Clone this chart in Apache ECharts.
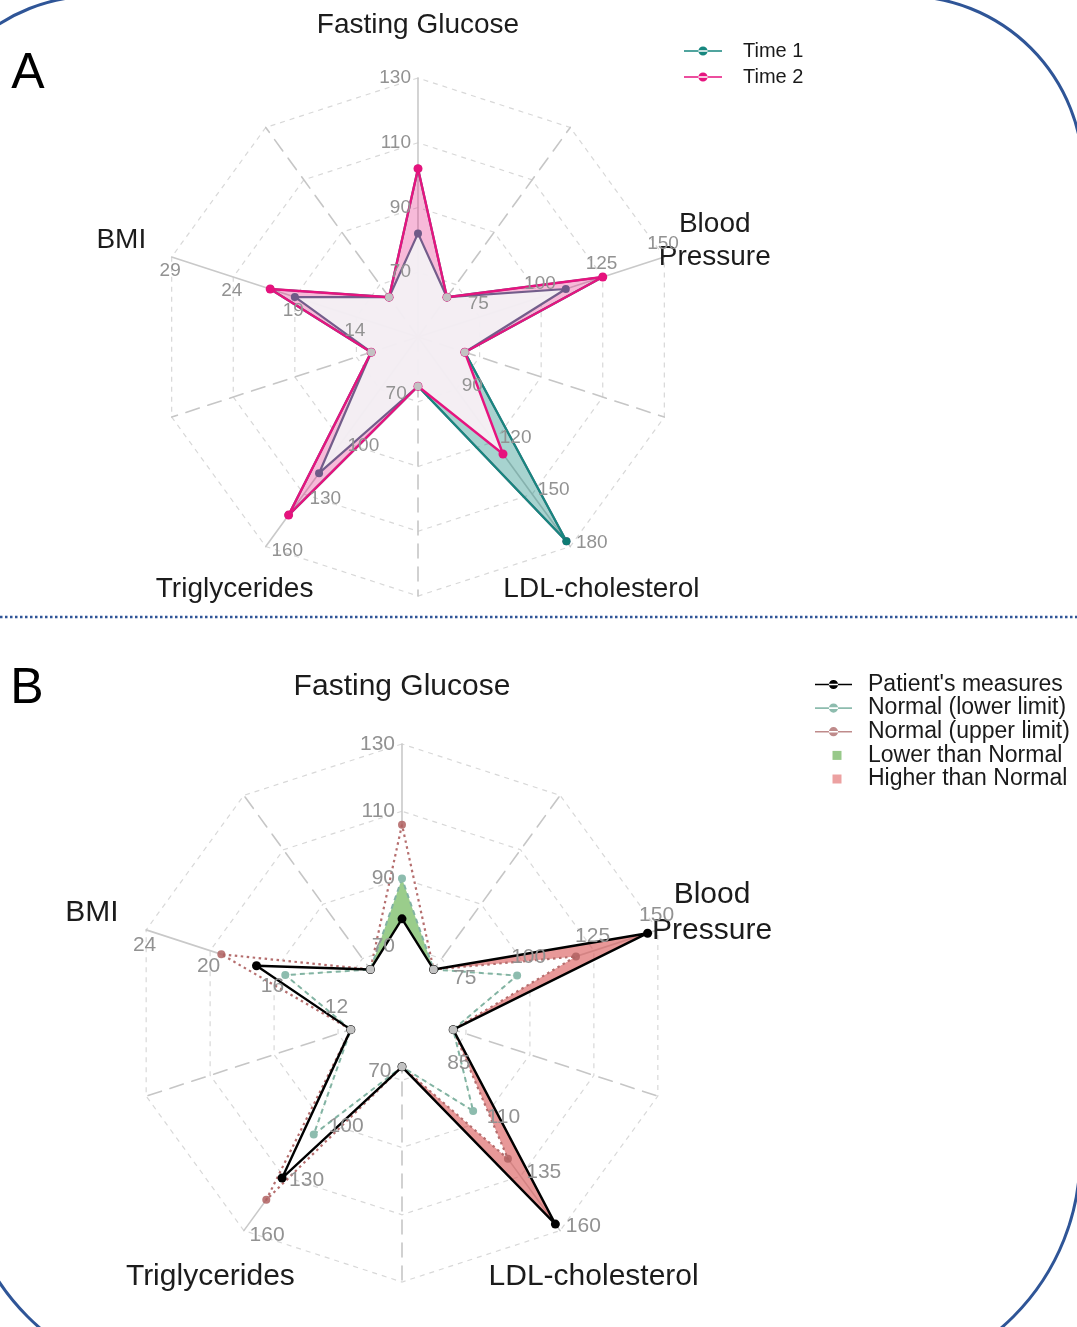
<!DOCTYPE html>
<html><head><meta charset="utf-8">
<script src="https://cdn.jsdelivr.net/npm/echarts@6/dist/echarts.min.js"></script>
<style>html,body{margin:0;padding:0;background:#fff}#c{width:1077px;height:1327px}</style>
</head><body><div id="c"></div>
<script>
// ---------- data ----------
const axisNames = ['Fasting Glucose', 'Blood\nPressure', 'LDL-cholesterol', 'Triglycerides', 'BMI'];
const ticksA = [[70, 90, 110, 130], [75, 100, 125, 150], [90, 120, 150, 180], [70, 100, 130, 160], [14, 19, 24, 29]];
const ticksB = [[70, 90, 110, 130], [75, 100, 125, 150], [85, 110, 135, 160], [70, 100, 130, 160], [12, 16, 20, 24]];
const time1 = [82, 110, 177, 118, 19];
const time2 = [102, 125, 127, 142, 21];
const patient = [78, 146, 157, 131, 17.1];
const normalLower = [90, 95, 105, 107, 15.3];
const normalUpper = [106, 118, 127, 143, 19.3];
const innerA = 0.19, innerB = 0.2;   // level of the star's inner vertices (fraction of radius)
const legendA = ['Time 1', 'Time 2'];
const legendB = ["Patient's measures", 'Normal (lower limit)', 'Normal (upper limit)', 'Lower than Normal', 'Higher than Normal'];

// ---------- helpers ----------
const FONT = 'Liberation Sans, Arial, sans-serif';
const order = [0, 4, 3, 2, 1]; // counter-clockwise from top: FG, BMI, Trig, LDL, BP

function indicators(ticks) {
  const out = [];
  order.forEach(k => {
    const t = ticks[k], step = t[1] - t[0];
    const ind = { name: axisNames[k], min: t[0] - step, max: t[t.length - 1] };
    if (k === 1) ind.axisLabel = { align: 'center', verticalAlign: 'bottom', margin: 4 };
    if (k === 4) ind.axisLabel = { align: 'center', verticalAlign: 'top', margin: 5 };
    out.push(ind);
    out.push({ name: '', min: 0, max: 1,
      axisLine: { lineStyle: { type: [14, 9], color: '#c6c6c6', width: 1.6 } },
      axisLabel: { show: false } });
  });
  return out;
}
function star(vals, inner) {
  const v = [];
  order.forEach(k => { v.push(vals[k]); v.push(inner); });
  return v;
}
const pairMin = (a, b) => a.map((x, i) => Math.min(x, b[i]));
const pairMax = (a, b) => a.map((x, i) => Math.max(x, b[i]));

function mainRadar(center, radius, ticks, nameSize, lineH, nameGap) {
  return {
    center, radius, startAngle: 90, splitNumber: 4, shape: 'polygon', z: 0,
    indicator: indicators(ticks),
    nameGap,
    axisName: { color: '#1c1c1c', fontSize: nameSize, fontFamily: FONT, lineHeight: lineH,
      align: 'center', verticalAlign: 'middle' },
    splitLine: { lineStyle: { color: '#d8d8d8', type: [5, 5], width: 1.2 } },
    splitArea: { show: false },
    axisLine: { lineStyle: { color: '#c9c9c9', width: 1.6 } },
    axisTick: { show: false },
    axisLabel: { show: false }
  };
}
function labelRadar(center, radius, ticks, labelSize) {
  return {
    center, radius, startAngle: 90, splitNumber: 4, shape: 'polygon', z: 10,
    indicator: indicators(ticks),
    axisName: { show: false },
    splitLine: { show: false }, splitArea: { show: false },
    axisLine: { show: false }, axisTick: { show: false },
    axisLabel: { show: true, color: '#929292', fontSize: labelSize, fontFamily: FONT, margin: 7,
      formatter: (v, i) => (i === 0 ? '' : String(v)) }
  };
}
function dotRadar(center, radius) {
  return {
    center, radius, startAngle: 126, splitNumber: 4, shape: 'polygon',
    indicator: [0, 1, 2, 3, 4].map(() => ({ name: '', min: 0, max: 1 })),
    axisName: { show: false }, axisLine: { show: false }, splitLine: { show: false },
    splitArea: { show: false }, axisLabel: { show: false }, axisTick: { show: false }
  };
}
function fill(radarIndex, name, values, color) {
  return { type: 'radar', radarIndex, silent: true, symbol: 'none',
    lineStyle: { width: 0, opacity: 0 }, areaStyle: { color, opacity: 1 },
    data: [{ name, value: values }] };
}
function line(radarIndex, name, values, color, width, type, symColor, symSize) {
  return { type: 'radar', radarIndex, silent: true, symbol: symColor ? 'circle' : 'none', symbolSize: symSize || 8,
    lineStyle: { width, color, type: type || 'solid' },
    itemStyle: { color: symColor || color },
    data: [{ name, value: values }] };
}

const lineIcon = 'path://M0,0M54,10M0,4.3h38v1.4h-38zM19,5m-4.6,0a4.6,4.6 0 1 0 9.2,0a4.6,4.6 0 1 0 -9.2,0z';
const lineIconB = 'path://M0,0M48,10M0,4.2h37v1.6h-37zM18.5,5m-4.6,0a4.6,4.6 0 1 0 9.2,0a4.6,4.6 0 1 0 -9.2,0z';
const sqIconB = 'path://M0,0M48,10M17.5,0.6h9v9h-9z';

const dotA = [0, 1, 2, 3, 4].map(() => innerA);
const dotB = [0, 1, 2, 3, 4].map(() => innerB);
const cA = [418, 337], rA = 259, cB = [402, 1013], rB = 269;

const option = {
  animation: false,
  backgroundColor: '#ffffff',
  radar: [
    mainRadar(cA, rA, ticksA, 28, 33, 53),   // 0
    dotRadar(cA, rA),                        // 1
    mainRadar(cB, rB, ticksB, 30, 36, 57),   // 2
    dotRadar(cB, rB),                        // 3
    labelRadar(cA, rA, ticksA, 19),          // 4
    labelRadar(cB, rB, ticksB, 21)           // 5
  ],
  legend: [
    { orient: 'vertical', left: 679, top: 36, itemWidth: 54, itemHeight: 10, itemGap: 6,
      selectedMode: false, itemStyle: { borderWidth: 0 },
      textStyle: { fontSize: 20, fontFamily: FONT, color: '#1a1a1a' },
      data: [
        { name: legendA[0], icon: lineIcon, itemStyle: { color: '#17877f' } },
        { name: legendA[1], icon: lineIcon, itemStyle: { color: '#e6147f' } }
      ] },
    { orient: 'vertical', left: 810, top: 668, itemWidth: 48, itemHeight: 10, itemGap: 0.6,
      selectedMode: false, itemStyle: { borderWidth: 0 },
      textStyle: { fontSize: 23, fontFamily: FONT, color: '#1a1a1a' },
      data: [
        { name: legendB[0], icon: lineIconB, itemStyle: { color: '#000000' } },
        { name: legendB[1], icon: lineIconB, itemStyle: { color: '#8dbcae' } },
        { name: legendB[2], icon: lineIconB, itemStyle: { color: '#bf8b8b' } },
        { name: legendB[3], icon: sqIconB, itemStyle: { color: '#98c98a' } },
        { name: legendB[4], icon: sqIconB, itemStyle: { color: '#eca1a1' } }
      ] }
  ],
  series: [
    // ---- panel A ----
    fill(0, 'a_t2fill', star(time2, innerA), 'rgba(231,41,138,0.32)'),
    fill(0, 'a_t1fill', star(time1, innerA), 'rgba(24,140,130,0.38)'),
    fill(0, 'a_minfill', star(pairMin(time1, time2), innerA), 'rgba(250,243,247,0.93)'),
    line(0, 'a_t1under', star(time1, innerA), '#735d8b', 2.2, 'solid', '#6f5a88', 8),
    line(0, legendA[0], star(pairMax(time1, time2), innerA), '#17877f', 2.2, 'solid', '#0e7c74', 8),
    line(0, legendA[1], star(time2, innerA), '#e6147f', 2.4, 'solid', '#e6127d', 9),
    line(1, 'a_dots', dotA, 'rgba(0,0,0,0)', 0, 'solid', '#c2c2c2', 8),
    // ---- panel B ----
    fill(2, legendB[4], star(patient, innerB), 'rgba(218,88,88,0.62)'),
    fill(2, 'b_upfill', star(normalUpper, innerB), '#ffffff'),
    fill(2, legendB[3], star(normalLower, innerB), 'rgba(120,188,100,0.75)'),
    fill(2, 'b_minfill', star(pairMin(normalLower, patient), innerB), '#ffffff'),
    line(2, legendB[2], star(normalUpper, innerB), '#b56e6e', 2.2, [2.5, 3.5], 'rgba(176,98,98,0.85)', 8),
    line(2, legendB[1], star(normalLower, innerB), '#82b3a3', 2, [5, 4], '#8dbcae', 8),
    line(2, legendB[0], star(patient, innerB), '#000000', 2.4, 'solid', '#000000', 9),
    line(3, 'b_dots', dotB, 'rgba(0,0,0,0)', 0, 'solid', '#c2c2c2', 8)
  ],
  graphic: [
    { type: 'rect', silent: true, shape: { x: -83, y: -4, width: 1166, height: 3000, r: 178 },
      style: { fill: 'none', stroke: '#2f5597', lineWidth: 3 } },
    { type: 'rect', silent: true, shape: { x: -39, y: -2000, width: 1119, height: 3383, r: 227 },
      style: { fill: 'none', stroke: '#2f5597', lineWidth: 3 } },
    { type: 'line', silent: true, shape: { x1: 0, y1: 617, x2: 1077, y2: 617 },
      style: { stroke: '#2f5597', lineWidth: 2.5, lineDash: [2.5, 2.5] } },
    { type: 'text', silent: true, x: 28, y: 74,
      style: { text: 'A', fontSize: 50, fontFamily: FONT, fill: '#000', align: 'center', verticalAlign: 'middle' } },
    { type: 'text', silent: true, x: 27, y: 689,
      style: { text: 'B', fontSize: 50, fontFamily: FONT, fill: '#000', align: 'center', verticalAlign: 'middle' } }
  ]
};

const chart = echarts.init(document.getElementById('c'), null, { renderer: 'canvas' });
chart.setOption(option);
</script>
</body></html>
